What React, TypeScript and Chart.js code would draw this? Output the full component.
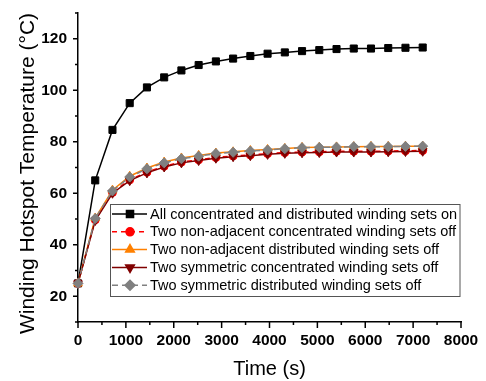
import React, { useEffect, useRef } from "react";
import { Chart, registerables } from "chart.js";
import { drawPoint } from "chart.js/helpers";

Chart.register(...registerables);

// Sampling instants (s)
const timeSeconds = [
  0, 360, 720, 1080, 1440, 1800, 2160, 2520, 2880, 3240, 3600,
  3960, 4320, 4680, 5040, 5400, 5760, 6120, 6480, 6840, 7200,
];

// Winding hotspot temperature (°C) for each operating case
const allSetsOn = [
  25, 65, 84.6, 95, 101.1, 105, 107.7, 109.8, 111.2, 112.3, 113.3,
  114.2, 114.7, 115.2, 115.6, 116.0, 116.2, 116.2, 116.4, 116.5, 116.6,
];
const nonAdjConcOff = [
  25, 49.7, 60.3, 65.2, 68.2, 70.5, 72.1, 73.0, 73.9, 74.5, 74.9,
  75.4, 75.8, 76.0, 76.1, 76.3, 76.3, 76.3, 76.4, 76.5, 76.6,
];
const nonAdjDistOff = [
  25, 50.4, 61.2, 66.6, 69.8, 72.1, 73.7, 74.7, 75.6, 76.1, 76.6,
  77.0, 77.4, 77.8, 77.9, 78.0, 78.1, 78.2, 78.2, 78.3, 78.3,
];
const symConcOff = [
  25, 49.4, 60.0, 64.9, 67.9, 70.2, 71.8, 72.7, 73.6, 74.2, 74.6,
  75.1, 75.5, 75.7, 75.8, 76.0, 76.0, 76.0, 76.1, 76.2, 76.3,
];
const symDistOff = [
  25, 50.2, 60.9, 66.3, 69.5, 71.8, 73.4, 74.4, 75.4, 75.9, 76.4,
  76.8, 77.3, 77.7, 77.8, 77.9, 78.1, 78.1, 78.1, 78.2, 78.3,
];

const seriesLabels = [
  "All concentrated and distributed winding sets on",
  "Two non-adjacent concentrated winding sets off",
  "Two non-adjacent distributed winding sets off",
  "Two symmetric concentrated winding sets off",
  "Two symmetric distributed winding sets off",
];

const xTickValues = [0, 1000, 2000, 3000, 4000, 5000, 6000, 7000, 8000];
const yTickValues = [20, 40, 60, 80, 100, 120];
const xRange = [0, 8000];
const yRange = [10, 130];

const xTitle = "Time (s)";
const yTitle = "Winding Hotspot Temperature (°C)";

type SeriesStyle = {
  color: string;
  dash: number[];
  pointStyle: string;
  radius: number;
  rotation: number;
};

const styles: SeriesStyle[] = [
  { color: "#000000", dash: [], pointStyle: "rect", radius: 5, rotation: 0 },
  { color: "#FF0000", dash: [5, 4], pointStyle: "circle", radius: 4, rotation: 0 },
  { color: "#FF8000", dash: [], pointStyle: "triangle", radius: 5, rotation: 0 },
  { color: "#800000", dash: [], pointStyle: "triangle", radius: 5, rotation: 180 },
  { color: "#808080", dash: [6, 4], pointStyle: "rectRot", radius: 5, rotation: 0 },
];

const seriesValues = [allSetsOn, nonAdjConcOff, nonAdjDistOff, symConcOff, symDistOff];

// Outward tick marks (major + minor) on both axes
const axisTicksPlugin = {
  id: "axisTicks",
  afterDraw(chart: any) {
    const { ctx, chartArea, scales } = chart;
    const x = scales.x;
    const y = scales.y;
    ctx.save();
    ctx.strokeStyle = "#000";
    ctx.lineWidth = 1.5;
    const xStep = xTickValues[1] - xTickValues[0];
    for (let v = xRange[0]; v <= xRange[1]; v += xStep / 2) {
      const px = x.getPixelForValue(v);
      const len = v % xStep === 0 ? 6 : 3;
      ctx.beginPath();
      ctx.moveTo(px, chartArea.bottom);
      ctx.lineTo(px, chartArea.bottom + len);
      ctx.stroke();
    }
    const yStep = yTickValues[1] - yTickValues[0];
    for (let v = yRange[0]; v <= yRange[1]; v += yStep / 2) {
      const py = y.getPixelForValue(v);
      const len = v % yStep === 0 ? 5 : 3;
      ctx.beginPath();
      ctx.moveTo(chartArea.left, py);
      ctx.lineTo(chartArea.left - len, py);
      ctx.stroke();
    }
    ctx.restore();
  },
};

// Axis titles
const axisTitlesPlugin = {
  id: "axisTitles",
  afterDraw(chart: any) {
    const { ctx, chartArea } = chart;
    ctx.save();
    ctx.fillStyle = "#000";
    ctx.textAlign = "center";
    ctx.textBaseline = "middle";
    ctx.font = "20px Arial, 'Liberation Sans', sans-serif";
    ctx.fillText(xTitle, (chartArea.left + chartArea.right) / 2, 369);
    ctx.translate(28, (chartArea.top + chartArea.bottom) / 2 + 6);
    ctx.rotate(-Math.PI / 2);
    ctx.font = "21px Arial, 'Liberation Sans', sans-serif";
    ctx.fillText(yTitle, 0, 0);
    ctx.restore();
  },
};

// Boxed legend inside the plot area
const boxedLegendPlugin = {
  id: "boxedLegend",
  afterDraw(chart: any) {
    const { ctx, chartArea } = chart;
    const left = chartArea.left + 32;
    const top = 204;
    const right = 459.5;
    const bottom = 296;
    ctx.save();
    ctx.fillStyle = "#fff";
    ctx.fillRect(left, top, right - left, bottom - top);
    ctx.strokeStyle = "#555";
    ctx.lineWidth = 1;
    ctx.strokeRect(left + 0.5, top + 0.5, right - left, bottom - top);
    ctx.font = "14.5px Arial, 'Liberation Sans', sans-serif";
    ctx.textBaseline = "middle";
    ctx.textAlign = "left";
    seriesLabels.forEach((label, i) => {
      const s = styles[i];
      const cy = 214 + i * 17.8;
      ctx.strokeStyle = s.color;
      ctx.fillStyle = s.color;
      ctx.lineWidth = 1.5;
      ctx.setLineDash(s.dash);
      ctx.beginPath();
      ctx.moveTo(left + 2, cy);
      ctx.lineTo(left + 37, cy);
      ctx.stroke();
      ctx.setLineDash([]);
      drawPoint(ctx, { pointStyle: s.pointStyle as any, rotation: s.rotation, radius: s.radius, borderWidth: 1 }, left + 20, cy);
      ctx.fillStyle = "#000";
      ctx.fillText(label, left + 40, cy + 0.5);
    });
    ctx.restore();
  },
};

const zeroPadding = (scale: any) => {
  scale.paddingTop = 0;
  scale.paddingBottom = 0;
  scale.paddingLeft = 0;
  scale.paddingRight = 0;
};

export default function App() {
  const canvasRef = useRef<HTMLCanvasElement | null>(null);

  useEffect(() => {
    if (!canvasRef.current) return;
    const datasets = seriesValues.map((vals, i) => {
      const s = styles[i];
      return {
        label: seriesLabels[i],
        data: timeSeconds.map((t, k) => ({ x: t, y: vals[k] })),
        borderColor: s.color,
        backgroundColor: s.color,
        pointBackgroundColor: s.color,
        pointBorderColor: s.color,
        borderWidth: 1.5,
        borderDash: s.dash,
        pointStyle: s.pointStyle,
        pointRotation: s.rotation,
        pointRadius: s.radius,
        pointBorderWidth: 1,
        tension: 0,
        clip: false as any,
        order: seriesValues.length - 1 - i,
      };
    });

    const tickFont = { family: "Arial, 'Liberation Sans', sans-serif", size: 15.5, weight: "bold" as const };

    const chart = new Chart(canvasRef.current, {
      type: "line",
      data: { datasets: datasets as any },
      options: {
        animation: false,
        responsive: false,
        layout: { padding: { left: 0, top: 13, right: 25, bottom: 0 } },
        plugins: {
          legend: { display: false },
          tooltip: { enabled: false },
        },
        scales: {
          x: {
            type: "linear",
            min: xRange[0],
            max: xRange[1],
            grid: { display: false, drawTicks: false },
            border: { display: true, color: "#000", width: 1.5 },
            afterBuildTicks: (scale: any) => {
              scale.ticks = xTickValues.map((v) => ({ value: v }));
            },
            afterFit: (scale: any) => {
              scale.height = 59;
              zeroPadding(scale);
            },
            ticks: {
              color: "#000",
              font: tickFont,
              padding: 9,
              maxRotation: 0,
              autoSkip: false,
              callback: (v: any) => String(v),
            },
          },
          y: {
            type: "linear",
            min: yRange[0],
            max: yRange[1],
            grid: { display: false, drawTicks: false },
            border: { display: true, color: "#000", width: 1.5 },
            afterBuildTicks: (scale: any) => {
              scale.ticks = yTickValues.map((v) => ({ value: v }));
            },
            afterFit: (scale: any) => {
              scale.width = 78;
              zeroPadding(scale);
            },
            ticks: {
              color: "#000",
              font: tickFont,
              padding: 11,
              autoSkip: false,
              callback: (v: any) => String(v),
            },
          },
        },
      },
      plugins: [axisTicksPlugin, axisTitlesPlugin, boxedLegendPlugin],
    });
    return () => chart.destroy();
  }, []);

  return (
    <div style={{ position: "absolute", left: 0, top: 0, width: 486, height: 381, background: "#fff" }}>
      <canvas ref={canvasRef} width={486} height={381} style={{ display: "block", width: 486, height: 381 }} />
    </div>
  );
}
